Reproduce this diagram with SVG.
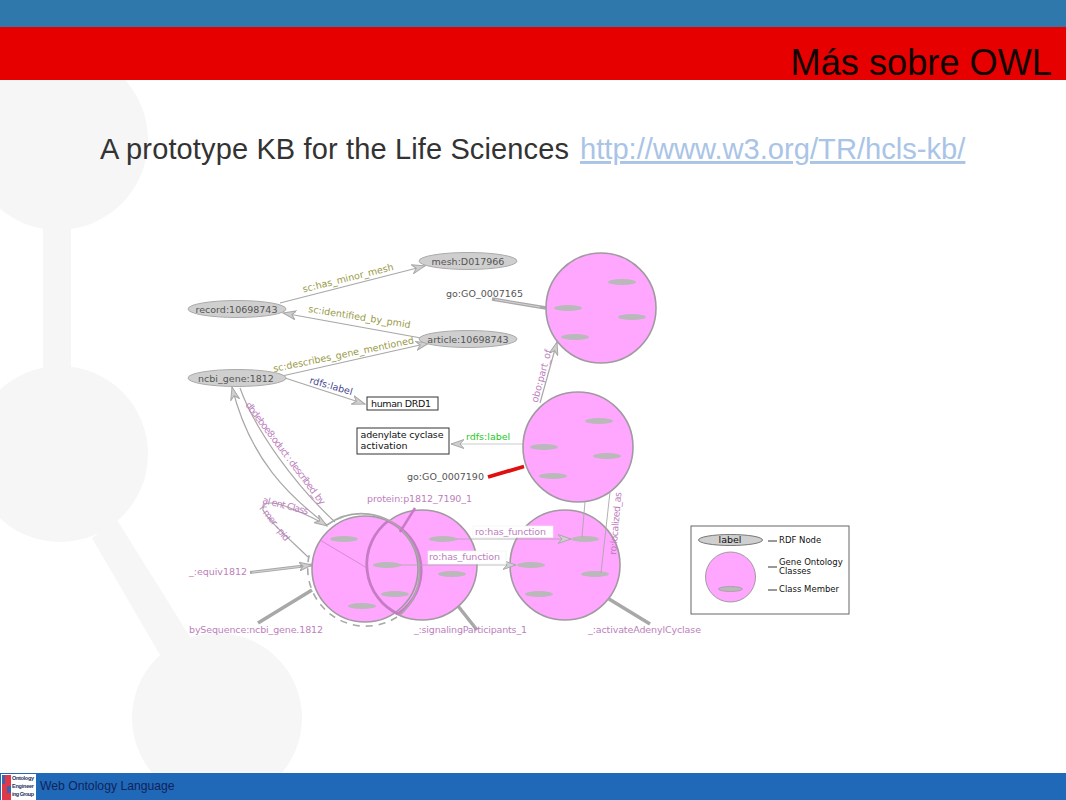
<svg xmlns="http://www.w3.org/2000/svg" width="1066" height="800" viewBox="0 0 1066 800">
<style>
.d{font-family:"DejaVu Sans",sans-serif;font-size:9.5px}
.n{fill:#555}
.p{fill:#bd80bd}
.o{fill:#9a9a48}
.big{font-family:"Liberation Sans",Arial,sans-serif}
.c{fill:#ffa6ff;stroke:#a09aa0;stroke-width:1.6}
.m{fill:#b9b9b9;stroke:none}
.r{fill:#cfcfcf;stroke:#aaa;stroke-width:1}
.e{fill:none;stroke:#a8a8a8;stroke-width:1.2}
.t{fill:none;stroke:#a8a8a8;stroke-width:3.5}
.b{fill:#fff;stroke:#333;stroke-width:1}
.k{fill:#111}
.l{font-family:"Liberation Sans",Arial,sans-serif;font-size:5.500px;font-weight:bold;fill:#23315f}
</style>
<defs>
<marker id="a" markerWidth="14" markerHeight="10" refX="13" refY="5" orient="auto" markerUnits="userSpaceOnUse"><path d="M0 .5L13 5L0 9.500L4 5Z" fill="#cfcfcf" stroke="#a8a8a8" stroke-width="1"/></marker>
</defs>
<rect width="1066" height="800" fill="#fff"/>
<g id="watermark" fill="#f6f6f6" stroke="none">
<circle cx="58" cy="140" r="90"/>
<rect x="43" y="220" width="28" height="150"/>
<circle cx="60" cy="454" r="88"/>
<path d="M92 538L117 520L190 637L160 655Z"/>
<circle cx="217" cy="718" r="85"/>
</g>
<rect width="1066" height="27" fill="#2e78ac"/>
<rect y="27" width="1066" height="53" fill="#e60000"/>
<text class="big" x="1052" y="75" font-size="36.200" text-anchor="end" fill="#100505">Más sobre OWL</text>
<text class="big" x="100" y="159" font-size="29" fill="#333" textLength="469">A prototype KB for the Life Sciences</text>
<text class="big" x="580" y="159" font-size="29.150" fill="#a9c4e6" text-decoration="underline">http://www.w3.org/TR/hcls-kb/</text>
<rect y="773" width="1066" height="27" fill="#2068b8"/>
<g id="logo">
<rect x="1" y="774" width="35" height="26" fill="#fff"/>
<rect x="2" y="775" width="9" height="25" fill="#e03848"/>
<rect x="2" y="775" width="3" height="9" fill="#3a66b0"/>
<rect x="7" y="786" width="4" height="7" fill="#3a66b0"/>
<text class="l" x="12" y="780" textLength="22">Ontology</text>
<text class="l" x="12" y="788" textLength="22">Engineer</text>
<text class="l" x="12" y="796" textLength="22">ing Group</text>
</g>
<text class="big" x="40" y="790" font-size="12.200" fill="#10245a">Web Ontology Language</text>

<g id="connectors">
<path class="e" d="M280 303L425 266" marker-end="url(#a)"/>
<path class="e" d="M421 338L283 313" marker-end="url(#a)"/>
<path class="e" d="M282 376L429 343" marker-end="url(#a)"/>
<path class="e" d="M285 378L365 404" marker-end="url(#a)"/>
<path class="e" d="M327 525C290 497 250 460 232 387" marker-end="url(#a)"/>
<path class="e" d="M240 388C255 430 295 485 335 522"/>
<path class="e" d="M308 557C285 535 268 520 263 510C262 500 275 502 290 508C305 514 318 520 327 526" marker-end="url(#a)"/>
<path class="t" style="stroke-width:3" d="M250 572.500L312 565" marker-end="url(#a)"/>
<path fill="none" stroke="#e6e6e6" stroke-width=".7" d="M252 572.300L300 566.500"/>
<path class="t" d="M258 623L312 590"/>
<path class="t" d="M492 299L546 308"/>
<path fill="none" stroke="#e6e6e6" stroke-width=".7" d="M495 299.500L540 307"/>
<path d="M488 477L524 466.500" fill="none" stroke="#e01010" stroke-width="3.800"/>
<path class="e" d="M540 403L557 342" marker-end="url(#a)"/>
<path class="e" style="stroke:#ccc" d="M523 444L451 444" marker-end="url(#a)"/>
<path class="t" d="M458 606L477 630"/>
<path class="t" d="M609 599L650 624"/>
</g>

<g id="class-go7165"><circle class="c" cx="601" cy="308" r="55"/><ellipse class="m" cx="622" cy="282" rx="14" ry="3"/><ellipse class="m" cx="568" cy="308" rx="14" ry="3"/><ellipse class="m" cx="632" cy="317" rx="14" ry="3"/><ellipse class="m" cx="575" cy="337" rx="14" ry="3"/></g>
<g id="class-activate"><circle class="c" cx="565" cy="565" r="55"/><ellipse class="m" cx="585" cy="539" rx="14" ry="3"/><ellipse class="m" cx="531" cy="565" rx="14" ry="3"/><ellipse class="m" cx="595" cy="574" rx="14" ry="3"/><ellipse class="m" cx="539" cy="594" rx="14" ry="3"/></g>
<g id="class-go7190"><circle class="c" cx="578" cy="447" r="55"/><ellipse class="m" cx="599" cy="421" rx="14" ry="3"/><ellipse class="m" cx="544" cy="447" rx="14" ry="3"/><ellipse class="m" cx="607" cy="456" rx="14" ry="3"/><ellipse class="m" cx="553" cy="476" rx="14" ry="3"/></g>
<g id="class-signaling"><circle class="c" cx="422" cy="565" r="55"/><ellipse class="m" cx="443" cy="539" rx="14" ry="3"/><ellipse class="m" cx="452" cy="574" rx="14" ry="3"/></g>
<g id="class-equiv"><circle class="c" cx="365" cy="569" r="53"/><ellipse class="m" cx="344" cy="539" rx="14" ry="3"/><ellipse class="m" cx="387" cy="565" rx="14" ry="3"/><ellipse class="m" cx="395" cy="594" rx="14" ry="3"/><ellipse class="m" cx="362" cy="606" rx="14" ry="3"/></g>
<g id="overlay" fill="none">
<path d="M388 521A55 55 0 0 0 398 614" stroke="#c57cc5" stroke-width="2.800"/>
<path d="M388 521A53 53 0 0 1 398 614" stroke="#c57cc5" stroke-width="2.800"/>
<path d="M327 525A58 58 0 0 1 400 615" stroke="#a8a8a8" stroke-width="1.600"/>
<path d="M397 617A58 58 0 0 1 310 552" stroke="#a8a8a8" stroke-width="1.600" stroke-dasharray="7 6"/>
<path d="M415 508L400 532" stroke="#c57cc5" stroke-width="2.500"/>
</g>
<g id="inner-connectors">
<path class="e" style="stroke-width:.7;stroke:#c080c0" d="M320 540L367 568"/>
<path class="e" style="stroke-width:.8" d="M400 565L516 565" marker-end="url(#a)"/>
<path class="e" style="stroke-width:.8" d="M456 539L571 539" marker-end="url(#a)"/>
<path class="e" style="stroke-width:.9" d="M585 502L582 537"/>
<path class="e" style="stroke-width:.9" d="M610 492L601 573"/>
<rect x="473" y="526" width="80" height="11.500" fill="#fff" stroke="#f2f2f2" stroke-width=".6"/>
<rect x="428" y="551" width="78" height="13" fill="#fff" stroke="#eee" stroke-width=".6"/>
</g>

<g id="node-record"><ellipse class="r" cx="237" cy="309" rx="49" ry="8.500"/><text class="d n" x="236.500" y="312.500" text-anchor="middle">record:10698743</text></g>
<g id="node-mesh"><ellipse class="r" cx="468" cy="261" rx="49" ry="8.500"/><text class="d n" x="468" y="264.500" text-anchor="middle">mesh:D017966</text></g>
<g id="node-article"><ellipse class="r" cx="468" cy="339" rx="49" ry="8.500"/><text class="d n" x="468" y="342.500" text-anchor="middle">article:10698743</text></g>
<g id="node-ncbi"><ellipse class="r" cx="237" cy="378" rx="49" ry="8.500"/><text class="d n" x="236" y="381.500" text-anchor="middle">ncbi_gene:1812</text></g>
<g id="lit-drd1"><rect class="b" x="367" y="397" width="71" height="13"/><text class="d k" x="371" y="407" textLength="60">human DRD1</text></g>
<g id="lit-adenylate"><rect class="b" x="357" y="428" width="92" height="26"/><text class="d k" x="360.500" y="437.500" textLength="83">adenylate cyclase</text><text class="d k" x="360.500" y="449">activation</text></g>

<g id="labels">
<text class="d n" x="446" y="296.500">go:GO_0007165</text>
<text class="d n" x="407" y="480">go:GO_0007190</text>
<text class="d o" transform="translate(303.500 292.500) rotate(-14)">sc:has_minor_mesh</text>
<text class="d o" transform="translate(308 312) rotate(9)">sc:identified_by_pmid</text>
<text class="d o" transform="translate(274 372) rotate(-11.600)">sc:describes_gene_mentioned</text>
<text class="d" fill="#484890" transform="translate(309 383) rotate(16)">rdfs:label</text>
<text class="d" fill="#28c828" x="466" y="440">rdfs:label</text>
<text class="d p" transform="translate(537.500 403) rotate(-75)">obo:part_of</text>
<text class="d p" x="367" y="502" textLength="105">protein:p1812_7190_1</text>
<text class="d p" x="475" y="534.500" textLength="71">ro:has_function</text>
<text class="d p" x="429" y="560" textLength="71">ro:has_function</text>
<text class="d p" transform="translate(245 405) rotate(53)" textLength="126">dbdeboe8:oduct : described_by</text>
<text class="d p" transform="translate(262 503) rotate(14)" textLength="47">al ent Class</text>
<text class="d p" transform="translate(258 507) rotate(52)" textLength="44">Y mer - pid</text>
<text class="d p" transform="translate(616 555) rotate(-85)" textLength="63">ro:localized_as</text>
<text class="d p" x="189" y="575" textLength="58">_:equiv1812</text>
<text class="d p" x="189" y="633" textLength="134">bySequence:ncbi_gene.1812</text>
<text class="d p" x="414" y="633" textLength="113">_:signalingParticipants_1</text>
<text class="d p" x="588" y="633" textLength="113">_:activateAdenylCyclase</text>
</g>

<g id="legend">
<rect x="691" y="526" width="158" height="88" fill="#fff" stroke="#666" stroke-width="1"/>
<ellipse class="r" cx="730.500" cy="540" rx="32" ry="5.500" style="stroke:#777"/>
<text class="d k" x="730" y="543" text-anchor="middle">label</text>
<circle class="c" cx="730.500" cy="577" r="25" style="stroke-width:1"/>
<ellipse class="m" cx="730.500" cy="589" rx="12" ry="2.500" style="stroke:#999;stroke-width:.7"/>
<path d="M768 541H777M768 567H777M768 590H777" stroke="#333" stroke-width="1"/>
<text class="d k" style="font-size:8.500px" x="779" y="543">RDF Node</text>
<text class="d k" style="font-size:8.500px" x="779" y="565">Gene Ontology</text>
<text class="d k" style="font-size:8.500px" x="779" y="573.500">Classes</text>
<text class="d k" style="font-size:8.500px" x="779" y="592">Class Member</text>
</g>
</svg>
